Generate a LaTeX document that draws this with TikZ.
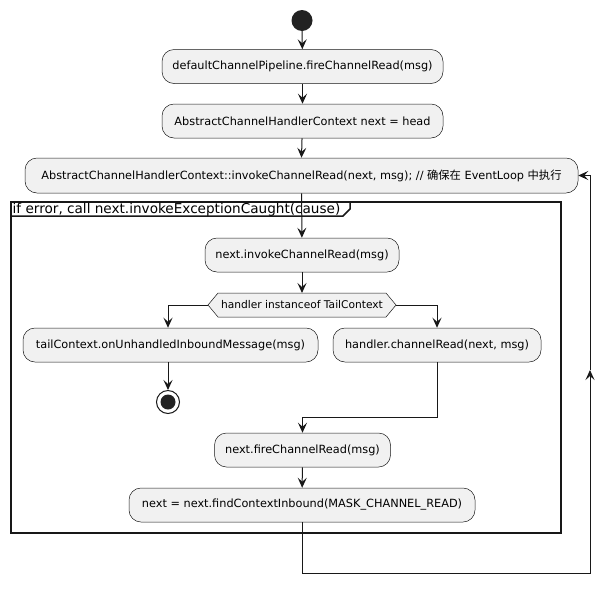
\documentclass[tikz,border=0pt]{standalone}
\usepackage{fontspec}
\setmainfont{DejaVu Sans}
\newfontfamily\cjk{Noto Sans CJK SC}
\usetikzlibrary{arrows.meta}
\definecolor{boxfill}{HTML}{F1F1F1}
\definecolor{edge}{HTML}{181818}
\definecolor{dot}{HTML}{222222}
\tikzset{
  act/.style={draw=edge, fill=boxfill, line width=0.5pt, rounded corners=12pt,
    minimum height=34pt, inner sep=0pt, font=\fontsize{11.3}{13}\selectfont, text=black},
  flow/.style={draw=edge, line width=1pt, -{Stealth[length=10pt,width=9pt,inset=4pt]}},
  plain/.style={draw=edge, line width=1pt},
  hexa/.style={draw=edge, fill=boxfill, line width=0.5pt},
  frame/.style={draw=edge, line width=1.5pt},
}
\begin{document}
\begin{tikzpicture}[x=1pt,y=-1pt]
\path[use as bounding box, fill=white] (0,0) rectangle (615,592);

% group frame
\draw[frame] (11,202) rectangle (561,533);
\draw[frame] (11,216) -- (343,216) -- (350,209) -- (350,202);
\node[anchor=west, inner sep=0pt, font=\fontsize{13.6}{15}\selectfont] (gtitle) at (12.5,209.5) {if error, call next.invokeExceptionCaught(cause)};

% start
\node[circle, fill=dot, minimum size=21pt, inner sep=0pt] (start) at (302,20.5) {};

\node[act, minimum width=281pt] (b1) at (302.5,66.5) {defaultChannelPipeline.fireChannelRead(msg)};
\node[act, minimum width=281pt] (b2) at (302.5,121) {AbstractChannelHandlerContext next = head};
\node[act, minimum width=553pt, minimum height=35pt] (b3) at (301.5,175.5) {AbstractChannelHandlerContext::invokeChannelRead(next, msg); // {\cjk 确保在} EventLoop {\cjk 中执行}};
\node[act, minimum width=194pt] (b4) at (302,255) {next.invokeChannelRead(msg)};

% decision hexagon
\draw[hexa] (208,305) -- (218,293) -- (386,293) -- (396,305) -- (386,317) -- (218,317) -- cycle;
\node[inner sep=0pt, font=\fontsize{10.65}{12}\selectfont] (dec) at (302,305) {handler instanceof TailContext};
\coordinate (decW) at (208,305);
\coordinate (decE) at (396,305);
\coordinate (decN) at (302,293);

\node[act, minimum width=295pt] (b5) at (170.5,345) {tailContext.onUnhandledInboundMessage(msg)};
\node[act, minimum width=208pt] (b6) at (437,345) {handler.channelRead(next, msg)};

% stop
\node[circle, draw=edge, fill=white, line width=1pt, minimum size=23pt, inner sep=0pt] (stop) at (168,402) {};
\fill[dot] (stop.center) circle (7.5pt);

\node[act, minimum width=176pt] (b7) at (302.5,450) {next.fireChannelRead(msg)};
\node[act, minimum width=346pt] (b8) at (302,505) {next = next.findContextInbound(MASK\_CHANNEL\_READ)};

% connectors
\draw[flow] (start) -- (b1);
\draw[flow] (b1) -- (b2);
\draw[flow] (b2) -- (b3.south |- b3.north);
\draw[flow] (b3) -- (b4);
\draw[flow] (b4) -- (decN);
\draw[flow] (decW) -| (b5.north -| stop.north);
\draw[flow] (decE) -| (b6.north);
\draw[flow] (b5.south -| stop.north) -- (stop.north);

\coordinate (j1) at (437,417);
\coordinate (j2) at (302.5,417);
\draw[flow] (b6.south) -- (j1) -- (j2) -- (b7.north);
\draw[flow] (b7) -- (b8);

\coordinate (l1) at (302,573);
\coordinate (l2) at (590,573);
\coordinate (l3) at (590,370);
\coordinate (l4) at (590,175.5);
\draw[flow] (b8.south) -- (l1) -- (l2) -- (l3);
\draw[flow] (l3) -- (l4) -- (b3.east);
\end{tikzpicture}
\end{document}
